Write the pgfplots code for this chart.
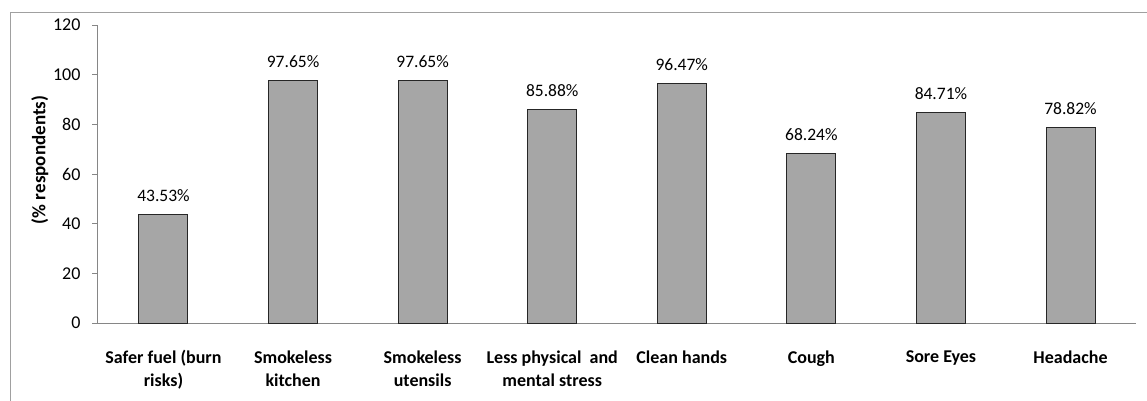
\documentclass[border=0pt]{standalone}
\usepackage{pgfplots}
\pgfplotsset{compat=1.18}
\usepackage{fontspec}
\setmainfont{Carlito}
\definecolor{barfill}{HTML}{A6A6A6}
\definecolor{axgray}{HTML}{868686}
\definecolor{framegray}{HTML}{A0A0A0}
\begin{document}
\begin{tikzpicture}
\path[use as bounding box] (0pt,0pt) rectangle (1147pt,-401pt);
\draw[framegray, line width=0.8pt] (10pt,-401pt) -- (10pt,-12pt) -- (1147pt,-12pt);
\begin{axis}[
  at={(97pt,-323pt)}, anchor=south west,
  scale only axis, width=1039pt, height=298pt,
  xmin=-0.513, xmax=7.505, ymin=0, ymax=120,
  ytick={0,20,...,120},
  xtick={0,...,7},
  xticklabels={{Safer fuel (burn\\risks)},{Smokeless\\kitchen},{Smokeless\\utensils},{Less physical\ \ and\\mental stress},{Clean hands},{Cough},{Sore Eyes},{Headache}},
  xticklabel style={align=center, font=\fontsize{18}{23}\selectfont\bfseries, anchor=north, yshift=-19pt},
  yticklabel={\fontsize{18}{20}\selectfont\pgfmathprintnumber[assume math mode=true]{\tick}},
  yticklabel style={anchor=east, xshift=-8pt},
  /pgf/number format/assume math mode=true,
  axis lines=left,
  axis line style={-, axgray, line width=0.8pt},
  x axis line style={shorten <=-4pt},
  tick align=outside,
  ytick style={axgray, line width=0.8pt},
  major tick length=5pt,
  xtick style={draw=none},
  ylabel={(\% respondents)},
  ylabel style={font=\fontsize{19}{21}\selectfont\bfseries, at={(axis description cs:-0.055,0.547)}, anchor=center},
  ybar, bar width=49pt,
  nodes near coords={\pgfmathprintnumber[fixed,fixed zerofill,precision=2]{\pgfplotspointmeta}\%},
  nodes near coords style={font=\fontsize{17.5}{19}\selectfont, anchor=south, yshift=9pt},
]
\addplot[fill=barfill, draw=black!85, line width=1pt] coordinates {
(0,43.53) (1,97.65) (2,97.65) (3,85.88) (4,96.47) (5,68.24) (6,84.71) (7,78.82)
};
\end{axis}
\end{tikzpicture}
\end{document}
